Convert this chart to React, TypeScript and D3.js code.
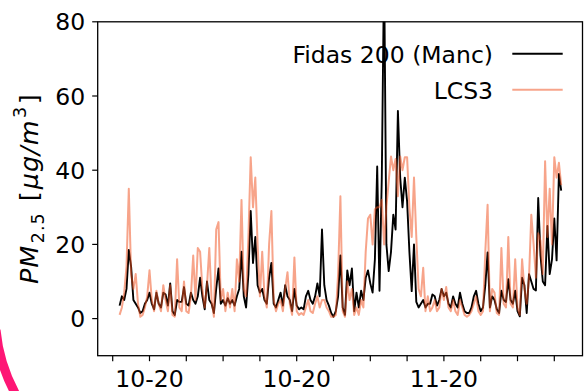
import React from 'react';
import * as d3 from 'd3';

// ---------- data ----------
const START = '2020-10-05 18:00';
const STEP_HOURS = 6;

const fidas = [
  3.5, 6, 5, 8, 18.5, 14, 5, 4, 3, 1.5,
  2, 4, 5, 7, 4, 2.5, 7, 4, 3, 7,
  6.5, 3.5, 9.5, 2, 1, 5, 4.5, 4.5, 8.5, 4,
  3.5, 7, 5, 4, 6, 11, 6, 2.5, 10, 5,
  4, 1.5, 8, 13.5, 4, 5, 3.5, 5.5, 4, 5,
  3.5, 6, 8, 18, 6, 3, 12, 29, 15, 22,
  9, 7, 8, 5, 4, 11, 15, 4, 3, 5,
  7, 3.5, 9, 6, 5, 2, 8, 3.5, 2.5, 3,
  2.5, 6, 7.5, 5, 4, 6, 9.5, 6, 24, 9,
  5, 3.5, 1.5, 0.5, 2, 6, 17, 3, 1, 13,
  9, 13.5, 2, 7, 3, 7.5, 5, 11, 13, 9.5,
  7, 16, 41, 7.5, 38, 95, 20, 12.8, 18, 28,
  24, 56, 38, 30, 38, 31.6, 18, 7.4, 20, 4.5,
  3, 4, 5, 3, 4, 4, 6.5, 6, 3.5, 5,
  8, 6, 7, 4, 3, 6, 4, 3, 7, 4,
  2, 1.5, 1.5, 3, 6, 7.5, 4, 2, 3, 9,
  17.8, 3, 6, 5, 2.5, 1.5, 7.5, 5, 4.5, 10.6,
  5, 4, 7.5, 2, 0.6, 11, 9, 1.5, 12, 10,
  8, 7.6, 32.5, 17, 10, 9, 25, 12, 16, 27,
  15.7, 39, 34.5,
];

const lcs3 = [
  1, 3, 7, 14, 35, 12, 8, 12, 4, 0.5,
  1, 3, 6, 13, 5, 2, 7.5, 4, 2, 9,
  5, 2, 9, 1, 0.5, 16, 3, 2, 10, 2,
  1.5, 6, 17, 5, 19, 18, 8, 3, 9, 19,
  5, 0.5, 24, 26, 5, 8, 2, 7, 3, 8,
  2, 16, 10, 32, 8, 6, 22, 43.5, 30, 38,
  20, 6, 18, 6, 3, 20, 29, 5, 2, 4,
  5, 2, 8, 12.5, 4, 1, 16.5, 2, 1, 1.5,
  1, 3, 5, 2, 1.5, 4, 6, 3, 5, 5,
  3, 2, 0.5, 0.5, 1, 12, 33, 2, 0.5, 10,
  5, 8, 1, 3, 1, 5, 3, 18, 27, 28,
  20, 29.5, 30, 30, 32, 20, 30, 37, 43.7, 40,
  43, 33, 43.7, 40, 43.5, 43.5, 30, 22, 38, 22,
  8, 6, 13.7, 2, 6, 2, 3, 5, 2, 3,
  8, 5, 8.5, 3, 2, 5, 2, 1, 5, 3,
  1, 0.5, 1, 2, 4, 6, 2, 1, 2, 18,
  30.7, 2, 8, 7, 1.5, 1, 19, 4, 3, 22,
  4, 3, 16, 3, 1, 16, 8, 4, 11, 28,
  20, 11, 23, 21, 12, 42.4, 22, 35, 20, 43.5,
  38, 42, 36,
];

const yTicks = [0, 20, 40, 60, 80];
const xTickDates = [
  '2020-10-05', '2020-10-09', '2020-10-13', '2020-10-17', '2020-10-21',
  '2020-10-25', '2020-10-29', '2020-11-02', '2020-11-06', '2020-11-10',
  '2020-11-14', '2020-11-18', '2020-11-22',
];
const xLabelDates = ['2020-10-09', '2020-10-25', '2020-11-10'];
const seriesNames = ['Fidas 200 (Manc)', 'LCS3'];

// ---------- layout ----------
const W = 584;
const H = 391;
const L = 97.7;
const R = 582.5;
const T = 21.8;
const B = 355.7;
const FONT = 'DejaVu Sans';
const FS = 23.5;
const BLACK = '#000000';
const SALMON = '#f0501e';
const SALMON_OP = 0.52;

const parseDay = d3.timeParse('%Y-%m-%d');
const parseStart = d3.timeParse('%Y-%m-%d %H:%M');
const fmt = d3.timeFormat('%m-%y');

export default function App() {
  const start = parseStart(START) as Date;
  const origin = parseDay('2020-10-05') as Date;
  const pxPerDay = 9.2;
  const dom0 = d3.timeMinute.offset(origin, Math.round((-(112.7 - L) / pxPerDay) * 1440));
  const dom1 = d3.timeMinute.offset(origin, Math.round(((R - 112.7) / pxPerDay) * 1440));

  const x = d3.scaleTime().domain([dom0, dom1]).range([L, R]);
  const y = d3.scaleLinear().domain([-10, 80]).range([B, T]);

  const dates = fidas.map((_, i) => d3.timeHour.offset(start, i * STEP_HOURS));
  const line = d3
    .line<number>()
    .x((_, i) => x(dates[i]))
    .y((d) => y(d));

  const ySub = 17.5;

  return (
    <svg
      width={W}
      height={H}
      style={{ position: 'absolute', left: 0, top: 0, background: '#fff' }}
      fontFamily={FONT}
    >
      <defs>
        <clipPath id="plot">
          <rect x={L} y={T} width={R - L} height={B - T} />
        </clipPath>
      </defs>
      <rect x={0} y={0} width={W} height={H} fill="#fff" />

      {/* decorative arc */}
      <path d="M -4 330 A 167 167 0 0 0 19 400" fill="none" stroke="#fe1675" strokeWidth={9} />

      <g clipPath="url(#plot)">
        <path d={line(fidas) || ''} fill="none" stroke={BLACK} strokeWidth={1.9} strokeLinejoin="round" />
        <path
          d={line(lcs3) || ''}
          fill="none"
          stroke={SALMON}
          strokeOpacity={SALMON_OP}
          strokeWidth={2}
          strokeLinejoin="round"
        />
      </g>

      {/* frame */}
      <rect x={L} y={T} width={R - L} height={B - T} fill="none" stroke="#000" strokeWidth={1.3} />

      {/* y ticks */}
      {yTicks.map((t) => (
        <g key={'y' + t}>
          <line x1={L - 5.5} x2={L} y1={y(t)} y2={y(t)} stroke="#000" strokeWidth={1.2} />
          <text x={L - 12.5} y={y(t) + 8.6} textAnchor="end" fontSize={FS} fill="#000">
            {t}
          </text>
        </g>
      ))}

      {/* x ticks */}
      {xTickDates.map((s) => {
        const d = parseDay(s) as Date;
        return <line key={s} x1={x(d)} x2={x(d)} y1={B} y2={B + 5.5} stroke="#000" strokeWidth={1.2} />;
      })}
      {xLabelDates.map((s) => {
        const d = parseDay(s) as Date;
        return (
          <text key={'l' + s} x={x(d)} y={386.5} textAnchor="middle" fontSize={FS} fill="#000">
            {fmt(d)}
          </text>
        );
      })}

      {/* y label */}
      <text
        transform={`translate(38,${(T + B) / 2}) rotate(-90)`}
        textAnchor="middle"
        fontSize={25.5}
        letterSpacing={1}
        fill="#000"
      >
        <tspan fontStyle="italic">PM</tspan>
        <tspan fontSize={ySub} dx={1.5} dy={5.5}>2.5</tspan>
        <tspan dx={2} dy={-5.5}> [</tspan>
        <tspan fontStyle="italic" dx={1}>μg/m</tspan>
        <tspan fontSize={ySub} dx={1.5} dy={-12.5}>3</tspan>
        <tspan dx={1.5} dy={12.5}>]</tspan>
      </text>

      {/* legend */}
      <text x={493} y={62.7} textAnchor="end" fontSize={FS} fill="#000">
        {seriesNames[0]}
      </text>
      <line x1={512.3} x2={562.7} y1={53.7} y2={53.7} stroke={BLACK} strokeWidth={1.9} />
      <text x={493} y={99.3} textAnchor="end" fontSize={FS} fill="#000">
        {seriesNames[1]}
      </text>
      <line x1={512.3} x2={562.7} y1={89.7} y2={89.7} stroke={SALMON} strokeOpacity={SALMON_OP} strokeWidth={2} />
    </svg>
  );
}
